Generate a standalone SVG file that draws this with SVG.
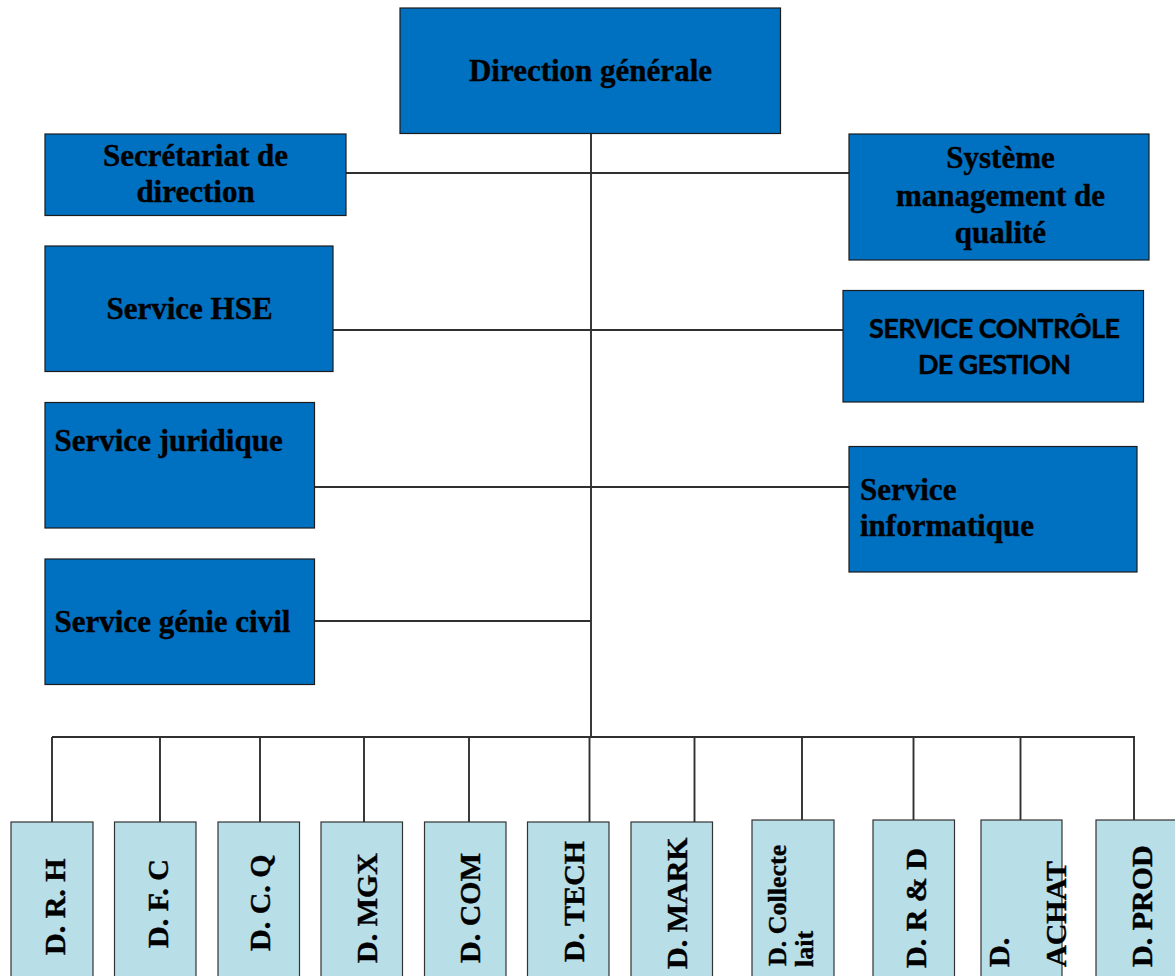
<svg xmlns="http://www.w3.org/2000/svg" width="1175" height="976" viewBox="0 0 1175 976">
<style>
.top{fill:#0070C0;stroke:#1c1c1c;stroke-width:1.2}
.bot{fill:#B8DEE8;stroke:#333333;stroke-width:1.2}
.t{font-family:"Liberation Serif","Times New Roman",serif;font-weight:bold;font-size:31px;fill:#000;stroke:#000;stroke-width:0.4}
.c{text-anchor:middle}
.b{font-family:"Liberation Serif","Times New Roman",serif;font-weight:bold;font-size:30px;fill:#000;stroke:#000;stroke-width:0.4}
.s{font-family:Lato,"Liberation Sans",sans-serif;font-weight:bold;font-size:27px;fill:#000;stroke:#000;stroke-width:0.4;text-anchor:middle}
.ln{stroke:#303030;stroke-width:1.9;fill:none}
</style>
<rect width="1175" height="976" fill="#ffffff"/>
<g id="connectors">
<line class="ln" x1="591" y1="133" x2="591" y2="737"/>
<line class="ln" x1="346" y1="173" x2="849" y2="173"/>
<line class="ln" x1="333" y1="330" x2="843" y2="330"/>
<line class="ln" x1="314" y1="487" x2="849" y2="487"/>
<line class="ln" x1="314" y1="621" x2="591" y2="621"/>
<line class="ln" x1="52" y1="737" x2="1135" y2="737"/>
<line class="ln" x1="52" y1="737" x2="52" y2="822"/>
<line class="ln" x1="160" y1="737" x2="160" y2="822"/>
<line class="ln" x1="260" y1="737" x2="260" y2="822"/>
<line class="ln" x1="364" y1="737" x2="364" y2="822"/>
<line class="ln" x1="469" y1="737" x2="469" y2="822"/>
<line class="ln" x1="589.5" y1="737" x2="589.5" y2="822"/>
<line class="ln" x1="694.5" y1="737" x2="694.5" y2="822"/>
<line class="ln" x1="802" y1="737" x2="802" y2="820"/>
<line class="ln" x1="913.5" y1="737" x2="913.5" y2="820"/>
<line class="ln" x1="1020.5" y1="737" x2="1020.5" y2="820"/>
<line class="ln" x1="1134" y1="737" x2="1134" y2="820"/>
</g>
<g id="direction-generale">
<rect class="top" x="400" y="8" width="380.5" height="125.5"/>
<text class="t c" x="590.5" y="81">Direction générale</text>
</g>
<g id="secretariat">
<rect class="top" x="45" y="134" width="301" height="81.5"/>
<text class="t c" x="195.5" y="166">Secrétariat de</text>
<text class="t c" x="195.5" y="202">direction</text>
</g>
<g id="systeme-qualite">
<rect class="top" x="849" y="134" width="300" height="126"/>
<text class="t c" x="1000.5" y="168">Système</text>
<text class="t c" x="1000.5" y="206">management de</text>
<text class="t c" x="1000.5" y="243">qualité</text>
</g>
<g id="service-hse">
<rect class="top" x="45" y="246" width="288" height="125.5"/>
<text class="t c" x="189.5" y="319">Service HSE</text>
</g>
<g id="controle-gestion">
<rect class="top" x="843" y="290.5" width="300.5" height="111.5"/>
<text class="s" x="994.5" y="338" textLength="251" lengthAdjust="spacing">SERVICE CONTRÔLE</text>
<text class="s" x="994.5" y="374" textLength="153" lengthAdjust="spacing">DE GESTION</text>
</g>
<g id="service-juridique">
<rect class="top" x="45" y="402.5" width="269.5" height="125.5"/>
<text class="t" x="54.5" y="451">Service juridique</text>
</g>
<g id="service-informatique">
<rect class="top" x="849" y="446.5" width="288" height="125.5"/>
<text class="t" x="860" y="500">Service</text>
<text class="t" x="860" y="536">informatique</text>
</g>
<g id="service-genie-civil">
<rect class="top" x="45" y="559" width="269.5" height="125.5"/>
<text class="t" x="54.5" y="631.5">Service génie civil</text>
</g>
<g id="d-rh">
<rect class="bot" x="11" y="822" width="82" height="170"/>
<text class="b" transform="translate(65,955) rotate(-90)">D. R. H</text>
</g>
<g id="d-fc">
<rect class="bot" x="114.5" y="822" width="81.5" height="170"/>
<text class="b" transform="translate(168,948) rotate(-90)">D. F. C</text>
</g>
<g id="d-cq">
<rect class="bot" x="218" y="822" width="81.5" height="170"/>
<text class="b" transform="translate(270,951) rotate(-90)">D. C. Q</text>
</g>
<g id="d-mgx">
<rect class="bot" x="321" y="822" width="81.5" height="170"/>
<text class="b" transform="translate(377,963) rotate(-90)">D. MGX</text>
</g>
<g id="d-com">
<rect class="bot" x="424.5" y="822" width="81.5" height="170"/>
<text class="b" transform="translate(480,963) rotate(-90)">D. COM</text>
</g>
<g id="d-tech">
<rect class="bot" x="527.5" y="822" width="81.5" height="170"/>
<text class="b" transform="translate(584,962) rotate(-90)">D. TECH</text>
</g>
<g id="d-mark">
<rect class="bot" x="631" y="822" width="81.5" height="170"/>
<text class="b" transform="translate(687,969) rotate(-90)">D. MARK</text>
</g>
<g id="d-collecte-lait">
<rect class="bot" x="752" y="820" width="82" height="172"/>
<text class="b" style="font-size:26px" transform="translate(786,966) rotate(-90)">D. Collecte</text>
<text class="b" style="font-size:26px" transform="translate(813,967) rotate(-90)">lait</text>
</g>
<g id="d-rd">
<rect class="bot" x="873" y="820" width="81.5" height="172"/>
<text class="b" transform="translate(926,968) rotate(-90)">D. R &amp; D</text>
</g>
<g id="d-achat">
<rect class="bot" x="981" y="820" width="81" height="172"/>
<text class="b" transform="translate(1009,967) rotate(-90)">D.</text>
<text class="b" transform="translate(1066,967) rotate(-90)">ACHAT</text>
</g>
<g id="d-prod">
<rect class="bot" x="1096" y="820" width="90" height="172"/>
<text class="b" transform="translate(1152,967) rotate(-90)">D. PROD</text>
</g>
</svg>
